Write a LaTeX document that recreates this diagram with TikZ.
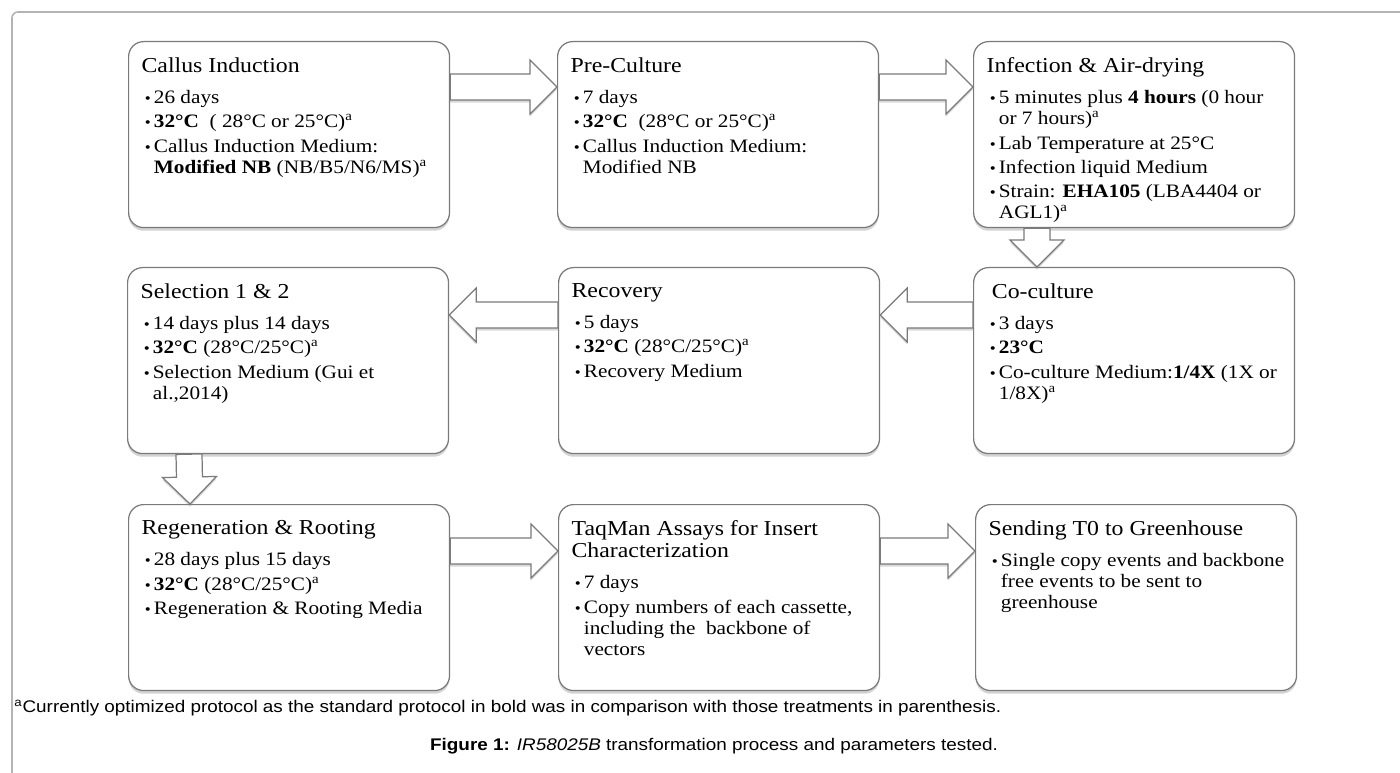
\documentclass[tikz,border=0pt]{standalone}
\usepackage{fontspec}
\setmainfont[FakeStretch=1.12]{Liberation Serif}
\newfontfamily\capfont[FakeStretch=1.12]{Liberation Sans}
\usetikzlibrary{calc,shadows}

\definecolor{edge}{HTML}{7A7A7A}
\definecolor{frm}{HTML}{B4B4B4}
% box text
\newcommand\bx[1]{\makebox[5.9cm][l]{\parbox[c][3.08cm][t]{6.6cm}{\fontsize{10.8}{12}\selectfont\raggedright #1}}}
\newcommand\hd[1]{{\fontsize{12.1}{12.6}\selectfont #1\par}\vspace{5.6pt}}
\newcommand\bl[1]{\hangindent=7pt\hangafter=1\noindent\makebox[7pt][l]{\hspace{1.8pt}\scalebox{0.8}{\textbullet}}#1\par\vspace{1.9pt}}
\newcommand\sa{\textsuperscript{a}}
% block arrow: tail, tip
\newcommand\blk[2]{\coordinate (hb) at ($(#2)!0.54cm!(#1)$);
 \draw[arw] ($(#1)!0.26cm!90:(#2)$) -- ($(hb)!0.26cm!90:(#2)$) -- ($(hb)!0.54cm!90:(#2)$) -- (#2)
  -- ($(hb)!0.54cm!-90:(#2)$) -- ($(hb)!0.26cm!-90:(#2)$) -- ($(#1)!0.26cm!-90:(#2)$) -- cycle;}

\begin{document}
\begin{tikzpicture}[x=0.02cm,y=-0.02cm,
 box/.style={draw=edge,line width=0.7pt,fill=white,rounded corners=0.3cm,anchor=north west,
  inner xsep=0.26cm,inner ysep=0.32cm,drop shadow={shadow xshift=0pt,shadow yshift=-1.8pt,opacity=0.35}},
 arw/.style={draw=edge,line width=0.7pt,fill=white,drop shadow={shadow xshift=0pt,shadow yshift=-1.5pt,opacity=0.3}},
 note/.style={font=\capfont\fontsize{9.6}{11}\selectfont,inner sep=0pt}]
\useasboundingbox (0,0) rectangle (1400,773);
\draw[frm,line width=0.9pt,rounded corners=0.12cm] (12,800) -- (12,12) -- (1430,12);
% row 1
\node[box] (cal) at (128,41) {\bx{\hd{Callus Induction}\bl{26 days}\bl{\textbf{32°C}~ ( 28°C or 25°C)\sa}
 \bl{Callus Induction Medium:\newline \textbf{Modified NB} (NB/B5/N6/MS)\sa}}};
\node[box] (pre) at (557,41) {\bx{\hd{Pre-Culture}\bl{7 days}\bl{\textbf{32°C}~ (28°C or 25°C)\sa}
 \bl{Callus Induction Medium:\newline Modified NB}}};
\node[box] (inf) at (973,41) {\bx{\hd{Infection \& Air-drying}\bl{5 minutes plus \textbf{4 hours} (0 hour\newline or 7 hours)\sa}
 \bl{Lab Temperature at 25°C}\bl{Infection liquid Medium}\bl{Strain: \textbf{EHA105} (LBA4404 or\newline AGL1)\sa}}};
% row 2
\node[box] (sel) at (127,267) {\bx{\hd{Selection 1 \& 2}\bl{14 days plus 14 days}\bl{\textbf{32°C} (28°C/25°C)\sa}
 \bl{Selection Medium (Gui et\newline al.,2014)}}};
\node[box] (rec) at (558,267) {\bx{\hd{Recovery}\bl{5 days}\bl{\textbf{32°C} (28°C/25°C)\sa}\bl{Recovery Medium}}};
\node[box] (coc) at (973,267) {\bx{\hd{\hspace*{3pt}Co-culture}\bl{3 days}\bl{\textbf{23°C}}
 \bl{Co-culture Medium:\textbf{1/4X} (1X or\newline 1/8X)\sa}}};
% row 3
\node[box] (reg) at (128,504) {\bx{\hd{Regeneration \& Rooting}\bl{28 days plus 15 days}\bl{\textbf{32°C} (28°C/25°C)\sa}
 \bl{Regeneration \& Rooting Media}}};
\node[box] (taq) at (558,504) {\bx{\hd{TaqMan Assays for Insert\\ Characterization}\bl{7 days}
 \bl{Copy numbers of each cassette,\newline including the~ backbone of\newline vectors}}};
\node[box] (snd) at (975,504) {\bx{\hd{Sending T0 to Greenhouse}\bl{Single copy events and backbone\newline free events to be sent to\newline greenhouse}}};
% arrows
\coordinate (t1) at ($(cal.north east)+(0,46)$); \coordinate (h1) at ($(pre.north west)+(0,46)$);
\coordinate (t2) at ($(pre.north east)+(0,46)$); \coordinate (h2) at ($(inf.north west)+(0,46)$);
\coordinate (t3) at ($(inf.south west)+(64,0)$); \coordinate (h3) at ($(coc.north west)+(64,0)$);
\coordinate (t4) at ($(coc.north west)+(0,48)$); \coordinate (h4) at ($(rec.north east)+(0,48)$);
\coordinate (t5) at ($(rec.north west)+(0,48)$); \coordinate (h5) at ($(sel.north east)+(0,48)$);
\coordinate (t6) at ($(sel.south west)+(62,0)$); \coordinate (h6) at ($(reg.north west)+(62,0)$);
\coordinate (t7) at ($(reg.north east)+(0,47)$); \coordinate (h7) at ($(taq.north west)+(0,47)$);
\coordinate (t8) at ($(taq.north east)+(0,47)$); \coordinate (h8) at ($(snd.north west)+(0,47)$);
\foreach \i in {1,...,8}{\blk{t\i}{h\i}}
% notes
\node[note,anchor=west] (fn) at (14,708) {\textsuperscript{a}Currently optimized protocol as the standard protocol in bold was in comparison with those treatments in parenthesis.};
\node[note] (cap) at (714,746) {\textbf{Figure 1:} \textit{IR58025B} transformation process and parameters tested.};
\end{tikzpicture}
\end{document}
